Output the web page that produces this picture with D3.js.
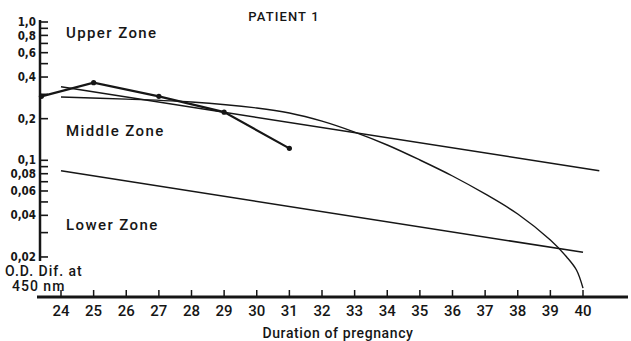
<!DOCTYPE html>
<html>
<head>
<meta charset="utf-8">
<script src="https://cdn.jsdelivr.net/npm/d3@7"></script>
<style>
  body { margin: 0; background: #fff; }
  svg { display: block; }
  text { fill: #161616; font-family: Roboto, "Liberation Sans", sans-serif; font-weight: 500; }
</style>
</head>
<body>
<svg id="chart"></svg>
<script>
const weeks = d3.range(24, 41);
const yTicks = [1.0, 0.9, 0.8, 0.7, 0.6, 0.5, 0.4, 0.3, 0.2, 0.1, 0.09, 0.08, 0.07, 0.06, 0.05, 0.04, 0.03, 0.02];
const yLabelled = [1.0, 0.8, 0.6, 0.4, 0.2, 0.1, 0.08, 0.06, 0.04, 0.02];
const yLabelText = ["1,0", "0,8", "0,6", "0,4", "0,2", "0,1", "0,08", "0,06", "0,04", "0,02"];

// patient measurements
const patientWeeks = [23.4, 25, 27, 29, 31];
const patientValues = [0.29, 0.364, 0.29, 0.223, 0.122];

// zone boundaries
const upperWeeks = [24, 40.5];
const upperValues = [0.34, 0.084];
const lowerWeeks = [24, 40];
const lowerValues = [0.084, 0.0216];

// fitted curve
const curveWeeks = [24, 26, 28, 30, 31, 32, 33, 34, 35, 36, 37, 38, 39, 39.5, 39.8, 40];
const curveValues = [0.287, 0.277, 0.264, 0.239, 0.22, 0.192, 0.16, 0.129, 0.1005, 0.077, 0.0571, 0.0409, 0.0265, 0.02, 0.0161, 0.0119];

const width = 631, height = 341;

const svg = d3.select("#chart")
    .attr("width", width)
    .attr("height", height);

const x = d3.scaleLinear().domain([24, 40]).range([61, 583]);
const y = d3.scaleLog().domain([0.01, 1]).range([298.6, 22]);

const ink = "#161616";

// x axis
const axisY = 297;
svg.append("line")
    .attr("x1", 37).attr("x2", 628)
    .attr("y1", axisY).attr("y2", axisY)
    .attr("stroke", ink).attr("stroke-width", 3);

svg.append("g")
    .selectAll("line")
    .data(weeks)
    .enter().append("line")
    .attr("x1", d => x(d)).attr("x2", d => x(d))
    .attr("y1", axisY).attr("y2", axisY - 7)
    .attr("stroke", ink).attr("stroke-width", 1.5);

svg.append("g")
    .selectAll("text")
    .data(weeks)
    .enter().append("text")
    .attr("x", d => x(d))
    .attr("y", 316)
    .attr("text-anchor", "middle")
    .attr("font-size", 15)
    .text(d => d);

// y axis
svg.append("line")
    .attr("x1", 40).attr("x2", 40)
    .attr("y1", 20).attr("y2", 261)
    .attr("stroke", ink).attr("stroke-width", 2.5);

svg.append("g")
    .selectAll("line")
    .data(yTicks)
    .enter().append("line")
    .attr("x1", 40).attr("x2", 48)
    .attr("y1", d => y(d)).attr("y2", d => y(d))
    .attr("stroke", ink).attr("stroke-width", 1.6);

svg.append("g")
    .selectAll("text")
    .data(yLabelled)
    .enter().append("text")
    .attr("x", 36)
    .attr("y", d => y(d))
    .attr("dy", "0.36em")
    .attr("text-anchor", "end")
    .attr("font-size", 11.5)
    .style("font-family", "'DejaVu Sans Condensed', 'DejaVu Sans', sans-serif")
    .style("font-weight", "bold")
    .text((d, i) => yLabelText[i]);

// lines
const line = d3.line()
    .x(d => x(d[0]))
    .y(d => y(d[1]));

svg.append("path")
    .datum(d3.zip(upperWeeks, upperValues))
    .attr("d", line)
    .attr("fill", "none").attr("stroke", ink).attr("stroke-width", 1.5);

svg.append("path")
    .datum(d3.zip(lowerWeeks, lowerValues))
    .attr("d", line)
    .attr("fill", "none").attr("stroke", ink).attr("stroke-width", 1.5);

svg.append("path")
    .datum(d3.zip(curveWeeks, curveValues))
    .attr("d", line.curve(d3.curveCatmullRom))
    .attr("fill", "none").attr("stroke", ink).attr("stroke-width", 1.4);

line.curve(d3.curveLinear);

const patient = d3.zip(patientWeeks, patientValues);
svg.append("path")
    .datum(patient)
    .attr("d", line)
    .attr("fill", "none").attr("stroke", ink).attr("stroke-width", 2.2);

svg.append("g")
    .selectAll("circle")
    .data(patient)
    .enter().append("circle")
    .attr("cx", d => x(d[0]))
    .attr("cy", d => y(d[1]))
    .attr("r", 2.6)
    .attr("fill", ink);

// texts
svg.append("text")
    .attr("x", 284).attr("y", 21)
    .attr("text-anchor", "middle")
    .attr("font-size", 13)
    .attr("letter-spacing", 1.1)
    .text("PATIENT 1");

const zones = [["Upper Zone", 38], ["Middle Zone", 136], ["Lower Zone", 230]];
svg.append("g")
    .selectAll("text")
    .data(zones)
    .enter().append("text")
    .attr("x", 66)
    .attr("y", d => d[1])
    .attr("font-size", 15)
    .attr("letter-spacing", 1.4)
    .text(d => d[0]);

svg.append("text")
    .attr("x", 5).attr("y", 276)
    .attr("font-size", 14)
    .attr("letter-spacing", 1)
    .text("O.D. Dif. at");

svg.append("text")
    .attr("x", 12).attr("y", 291)
    .attr("font-size", 14)
    .attr("letter-spacing", 1)
    .text("450 nm");

svg.append("text")
    .attr("x", 338).attr("y", 338)
    .attr("text-anchor", "middle")
    .attr("font-size", 14)
    .attr("letter-spacing", 0.6)
    .text("Duration of pregnancy");
</script>
</body>
</html>
